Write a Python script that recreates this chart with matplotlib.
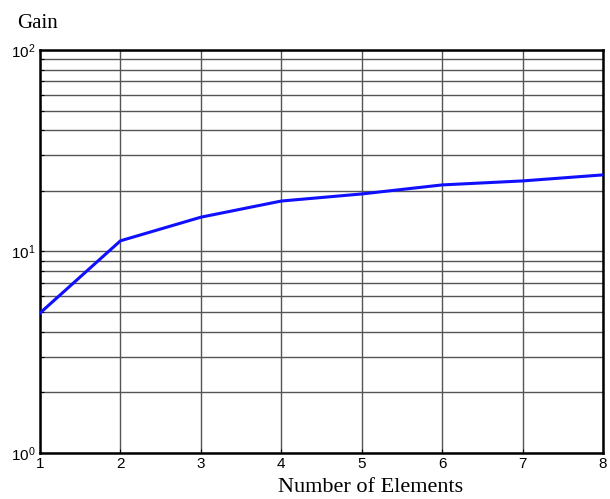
import matplotlib
matplotlib.use("Agg")
import matplotlib.pyplot as plt
from matplotlib.ticker import LogLocator, FixedLocator

elements = [1, 2, 3, 4, 5, 6, 7, 8]
gain = [4.95, 11.3, 14.8, 17.8, 19.3, 21.4, 22.4, 24.0]
x_ticks = [1, 2, 3, 4, 5, 6, 7, 8]

fig = plt.figure(figsize=(6.10, 4.99), dpi=100)
ax = fig.add_axes([0.0656, 0.0922, 0.9229, 0.8076])

ax.plot(elements, gain, color='#1010ff', linewidth=2.2, zorder=3)
ax.set_yscale('log')
ax.set_xlim(1, 8)
ax.set_ylim(1, 100)
ax.xaxis.set_major_locator(FixedLocator(x_ticks))
ax.set_xticklabels([str(v) for v in x_ticks], family='Liberation Sans', fontsize=11)
ax.yaxis.set_major_locator(LogLocator(base=10, numticks=5))
ax.yaxis.set_minor_locator(LogLocator(base=10, subs=range(2, 10), numticks=20))
for lbl in ax.get_yticklabels():
    lbl.set_family('Liberation Sans')
    lbl.set_fontsize(11)

ax.grid(True, which='major', color='#555555', linewidth=1.0)
ax.grid(True, which='minor', axis='y', color='#555555', linewidth=1.0)
ax.tick_params(which='both', direction='in', length=3, width=0.8, pad=3)
ax.tick_params(axis='y', which='minor', labelleft=False)
for s in ax.spines.values():
    s.set_linewidth(1.8)
    s.set_color('black')

fig.text(0.028, 0.952, 'Gain', family='Liberation Serif', fontsize=15, ha='left', va='center')
fig.text(0.607, 0.024, 'Number of Elements', family='Liberation Serif', fontsize=16, ha='center', va='center')

fig.savefig('out.png', dpi=100)
